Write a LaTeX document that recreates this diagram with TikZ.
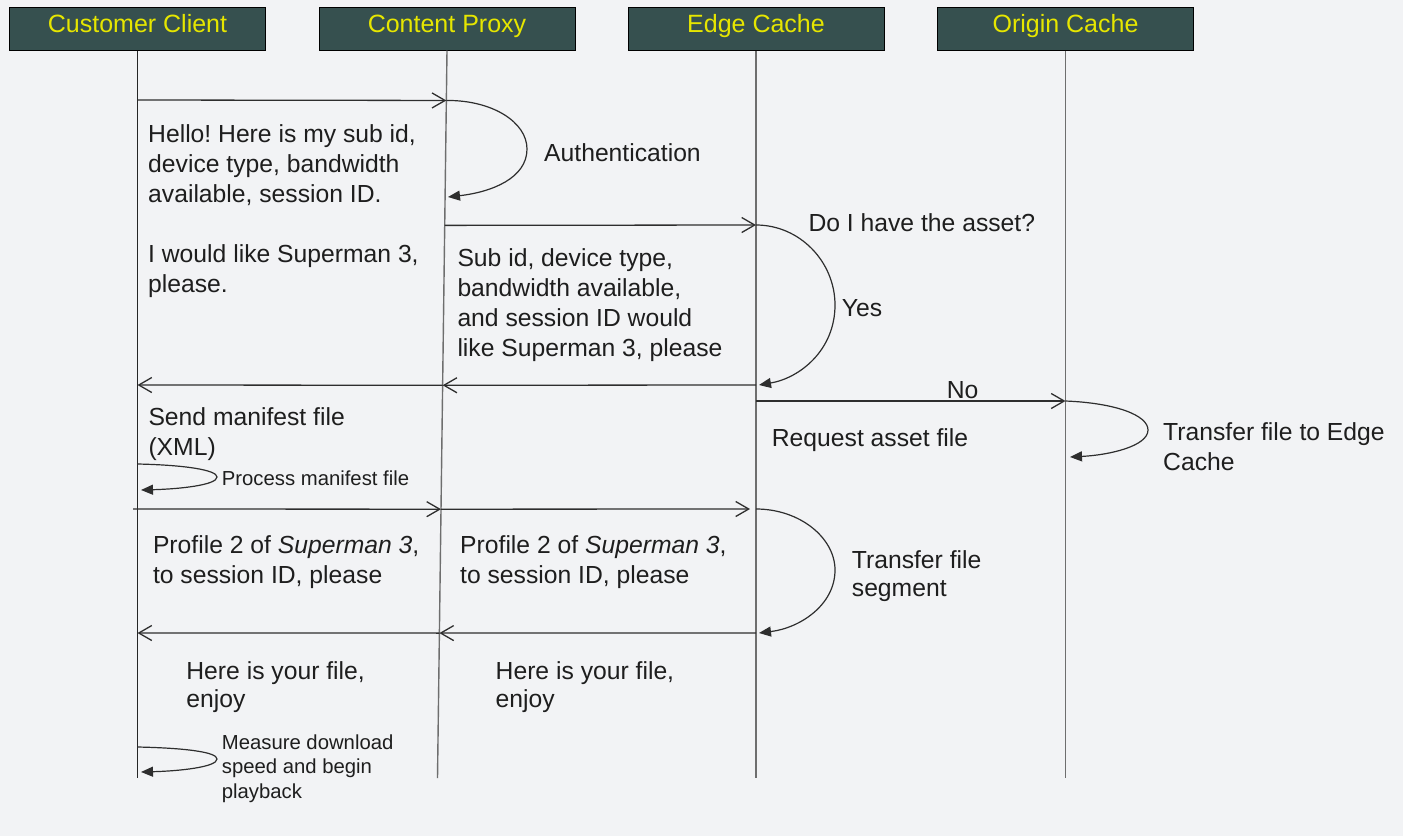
\documentclass[tikz,border=0pt]{standalone}
\usepackage{fontspec}
\setmainfont{Liberation Sans}
\usetikzlibrary{arrows.meta,calc}
\frenchspacing
\definecolor{bg}{HTML}{F2F3F5}
\definecolor{hdrfill}{HTML}{36504F}
\definecolor{hdrtext}{HTML}{E6E600}
\definecolor{ink}{HTML}{1E1E1E}
\definecolor{lifegray}{HTML}{6E6E6E}
\definecolor{arrowink}{HTML}{2E2E2E}
\begin{document}
\begin{tikzpicture}[x=1pt,y=-1pt,
  hdr/.style={draw=black, line width=1pt, fill=hdrfill, text=hdrtext,
    minimum width=256pt, minimum height=43pt, inner sep=0pt,
    font={\fontsize{25}{30}\selectfont}, text height=17.6pt, text depth=10pt},
  lbl/.style={inner sep=0pt, anchor=base west, align=left, text=ink,
    font={\fontsize{24.7}{30}\selectfont\frenchspacing}},
  lbltight/.style={lbl, font={\fontsize{24.7}{28.5}\selectfont\frenchspacing}},
  small/.style={lbl, font={\fontsize{20.3}{24.5}\selectfont\frenchspacing}},
  life/.style={draw=lifegray, line width=1.4pt},
  lifedark/.style={draw=black!85, line width=1.4pt},
  msg/.style={draw=arrowink, line width=1.3pt, -{Straight Barb[length=13pt,width=15pt]}},
  selfloop/.style={draw=arrowink, line width=1.2pt, -{Triangle[length=12pt,width=10pt]}},
]
\fill[bg] (0,0) rectangle (1403,836);
\useasboundingbox (0,0) rectangle (1403,836);

% headers
\node[hdr] (cc) at (137.5,28.5) {Customer Client};
\node[hdr] (cp) at (447,28.5) {Content Proxy};
\node[hdr] (ec) at (756,28.5) {Edge Cache};
\node[hdr] (oc) at (1065.5,28.5) {Origin Cache};

% lifeline ends
\coordinate (ccB) at (137.5,778);
\coordinate (cpB) at (437.5,778);
\coordinate (ecB) at (756,778);
\coordinate (ocB) at (1065.5,778);

\draw[lifedark] (cc.south) -- (ccB);
\draw[life] (cp.south) -- (cpB);
\draw[life] (ec.south) -- (ecB);
\draw[life] (oc.south) -- (ocB);

% points on lifelines
\foreach \yy in {100,225,385,401,509,633}{
  \coordinate (c\yy) at (137.5,\yy);
  \coordinate (p\yy) at ($(cp.south)!{(\yy-50)/728}!(cpB)$);
  \coordinate (e\yy) at (756,\yy);
  \coordinate (o\yy) at (1065.5,\yy);
}
\coordinate (c509s) at (133,509);
\coordinate (e509s) at (750,509);

% messages
\draw[msg] (c100) -- (p100);
\draw[selfloop] (p100) .. controls (492,100) and (527,122) .. (527,149)
  .. controls (527,178) and (492,192) .. (448,197);
\draw[msg] (p225) -- (e225);
\draw[selfloop] (e225) .. controls (800,225) and (835,262) .. (835,305)
  .. controls (835,350) and (800,378) .. (759,385);
\draw[msg] (e385) -- (p385);
\draw[msg] (p385) -- (c385);
\draw[msg] (e401) -- (o401);
\draw[selfloop] (o401) .. controls (1115,403) and (1148,415) .. (1148,430)
  .. controls (1148,446) and (1110,455) .. (1070,457);
\draw[selfloop] (137.5,464) .. controls (185,465) and (217,470) .. (217,477)
  .. controls (217,485) and (180,489) .. (141,490);
\draw[msg] (c509s) -- (p509);
\draw[msg] (p509) -- (e509s);
\draw[selfloop] (e509) .. controls (800,509) and (835,538) .. (835,570)
  .. controls (835,605) and (800,628) .. (759,633);
\draw[msg] (e633) -- (p633);
\draw[msg] (p633) -- (c633);
\draw[selfloop] (137.5,747) .. controls (185,748) and (217,752) .. (217,759)
  .. controls (217,767) and (180,771) .. (141,772);

% labels (anchor = baseline of the last line)
\node[lbl] (hello) at (148,292.5) {Hello! Here is my sub id,\\device type, bandwidth\\available, session ID.\\[30pt]I would like Superman 3,\\please.};
\node[lbl] (auth) at (544,161.7) {Authentication};
\node[lbl] (doi) at (808.3,231.7) {Do I have the asset?};
\node[lbl] (subid) at (457.3,356) {Sub id, device type,\\bandwidth available,\\and session ID would\\like Superman 3, please};
\node[lbl] (yes) at (841.7,316.7) {Yes};
\node[lbl] (no) at (946.7,398.3) {No};
\node[lbl] (req) at (771.7,446) {Request asset file};
\node[lbl] (xfer) at (1163,470) {Transfer file to Edge\\Cache};
\node[lbl] (send) at (148.3,455.5) {Send manifest file\\(XML)};
\node[small] (proc) at (221.7,485.7) {Process manifest file};
\node[lbl] (prof1) at (152.8,583.3) {Profile 2 of \textit{Superman 3},\\to session ID, please};
\node[lbl] (prof2) at (460,583.3) {Profile 2 of \textit{Superman 3},\\to session ID, please};
\node[lbltight] (seg) at (851.7,596.8) {Transfer file\\segment};
\node[lbltight] (here1) at (186.2,707.5) {Here is your file,\\enjoy};
\node[lbltight] (here2) at (495.5,707.5) {Here is your file,\\enjoy};
\node[small] (meas) at (221.7,798.3) {Measure download\\speed and begin\\playback};
\end{tikzpicture}
\end{document}
